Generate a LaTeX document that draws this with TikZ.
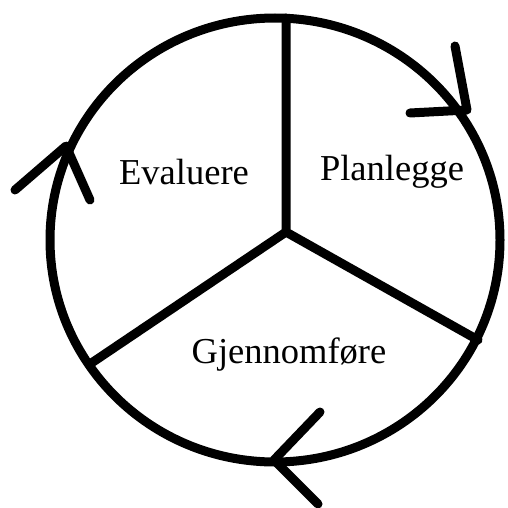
\documentclass[tikz,border=0pt]{standalone}
\usepackage{fontspec}
\setmainfont{Liberation Serif}
\begin{document}
\begin{tikzpicture}[x=1pt,y=-1pt,
  thick line/.style={line width=9pt,line cap=round,line join=round},
  label/.style={font=\fontsize{36.5}{42}\selectfont,inner sep=0pt}]
\useasboundingbox (0,0) rectangle (508,508);
% circle
\draw[line width=9pt] (275,240) ellipse [x radius=225, y radius=222];
% spokes
\coordinate (c) at (286,232);
\coordinate (top) at (286,18);
\coordinate (r) at (478,340);
\coordinate (l) at (90,364);
\draw[thick line] (top) -- (c) -- (r);
\draw[thick line] (c) -- (l);
% arrow heads
\coordinate (t1) at (467,110);
\coordinate (a1) at (455,46);
\coordinate (b1) at (410,113);
\draw[thick line] (a1) -- (t1) -- (b1);
\coordinate (t2) at (66,146);
\coordinate (a2) at (15,190);
\coordinate (b2) at (90,200);
\draw[thick line] (a2) -- (t2) -- (b2);
\coordinate (t3) at (274,460);
\coordinate (a3) at (320,412);
\coordinate (b3) at (318,504);
\draw[thick line] (a3) -- (t3) -- (b3);
% labels
\node[label] (ev) at (184,172) {Evaluere};
\node[label] (pl) at (392,172) {Planlegge};
\node[label] (gj) at (289,355) {Gjennomføre};
\end{tikzpicture}
\end{document}
